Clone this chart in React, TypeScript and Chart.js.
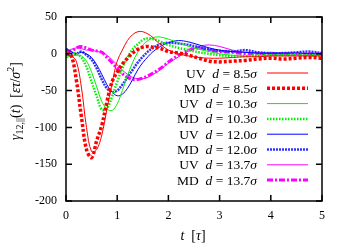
import React, { useEffect, useRef } from "react";
import { Chart, registerables } from "chart.js";

Chart.register(...registerables);

const T = [0, 0.1, 0.2, 0.3, 0.4, 0.5, 0.6, 0.7, 0.8, 0.9, 1.0, 1.1, 1.2, 1.3, 1.4, 1.5, 1.6, 1.7, 1.8, 1.9, 2.0, 2.2, 2.4, 2.6, 2.8, 3.0, 3.25, 3.5, 3.75, 4.0, 4.25, 4.5, 4.75, 5.0];

const uv85 = [-2, -3, -10, -45, -100, -133, -130, -110, -75, -40, -10, 5, 18, 26, 30, 30, 27, 22, 15, 10, 5, 0, -3, -5, -6, -6, -5, -4, -4, -3, -3, -3, -3, -3];
const md85 = [0, -2, -35, -85, -130, -141, -118, -97, -65, -38, -25, -14, -6, 1, 6, 9, 10, 9, 8, 6, 3, 1, -2, -6, -10, -11, -10, -9, -7, -6, -7, -6, -5, -6];
const uv103 = [-5, -3, -2, -3, -10, -25, -45, -65, -75, -77, -68, -50, -30, -12, 2, 12, 18, 22, 23, 22, 20, 15, 10, 6, 3, 0, -2, -3, -3, -2, -2, -2, -2, -2];
const md103 = [-5, 0, 0, -5, -18, -38, -58, -76, -74, -58, -38, -20, -5, 6, 13, 19, 21, 20, 18, 15, 12, 8, 5, 2, 0, -2, -3, -3, -2, -2, -2, -1, -2, -2];
const uv120 = [8, 3, 0, 2, 0, -5, -15, -28, -42, -52, -57, -55, -47, -35, -22, -12, -4, 3, 8, 12, 15, 18, 16, 12, 8, 5, 3, 2, 1, 1, 1, 1, 0, 0];
const md120 = [6, 2, 0, 3, -2, -8, -20, -35, -47, -52, -50, -42, -32, -22, -12, -4, 3, 8, 12, 14, 15, 14, 12, 9, 6, 4, 3, 5, 2, 1, 1, 2, 3, 1];
const uv137 = [3, 6, 8, 7, 5, 5, 3, 2, -2, -8, -15, -22, -28, -32, -34, -34, -32, -28, -24, -18, -13, -4, 4, 10, 12, 10, 5, 2, 1, 0, 0, 0, 0, 0];
const md137 = [5, 3, 8, 10, 8, 5, 4, 2, -5, -12, -20, -27, -32, -35, -35, -33, -30, -26, -22, -17, -11, -2, 5, 8, 5, 3, 2, 0, 0, 0, 0, 0, 0, 0];

const methods = ["UV", "MD", "UV", "MD", "UV", "MD", "UV", "MD"];
const diameters = ["8.5", "8.5", "10.3", "10.3", "12.0", "12.0", "13.7", "13.7"];
const seriesValues = [uv85, md85, uv103, md103, uv120, md120, uv137, md137];

const xTicks = [0, 1, 2, 3, 4, 5];
const yTicks = [50, 0, -50, -100, -150, -200];

const colors = ["#ff0000", "#ff0000", "#00f000", "#00f000", "#0000ff", "#3333ff", "#ff00ff", "#ff00ff"];
const widths = [1, 3.5, 1, 2.5, 1, 2.5, 1, 3];
const dashes: number[][] = [[], [3, 2], [], [1.5, 1.5], [], [2, 1], [], [6, 2, 2, 2]];

const SERIF = "'Liberation Serif', 'DejaVu Serif', serif";

type Piece = { s: string; it?: boolean; size?: number; dy?: number };

function drawPieces(ctx: CanvasRenderingContext2D, pieces: Piece[], x: number, y: number, align: "left" | "right" | "center", base = 13) {
  const font = (p: Piece) => `${p.it ? "italic " : ""}${p.size || base}px ${SERIF}`;
  let total = 0;
  for (const p of pieces) {
    ctx.font = font(p);
    total += ctx.measureText(p.s).width;
  }
  let cx = align === "left" ? x : align === "right" ? x - total : x - total / 2;
  ctx.textAlign = "left";
  ctx.textBaseline = "alphabetic";
  for (const p of pieces) {
    ctx.font = font(p);
    ctx.fillText(p.s, cx, y + (p.dy || 0));
    cx += ctx.measureText(p.s).width;
  }
}

const framePlugin = {
  id: "frame",
  afterDatasetsDraw(chart: any) {
    const { ctx, chartArea: a, scales } = chart;
    ctx.save();
    ctx.strokeStyle = "#000";
    ctx.lineWidth = 1.5;
    ctx.setLineDash([]);
    ctx.strokeRect(a.left, a.top, a.right - a.left, a.bottom - a.top);
    const L = 6;
    ctx.beginPath();
    for (const v of xTicks) {
      const px = scales.x.getPixelForValue(v);
      ctx.moveTo(px, a.bottom);
      ctx.lineTo(px, a.bottom - L);
      ctx.moveTo(px, a.top);
      ctx.lineTo(px, a.top + L);
    }
    for (const v of yTicks) {
      const py = scales.y.getPixelForValue(v);
      ctx.moveTo(a.left, py);
      ctx.lineTo(a.left + L, py);
      ctx.moveTo(a.right, py);
      ctx.lineTo(a.right - L, py);
    }
    ctx.stroke();

    // legend
    ctx.fillStyle = "#000";
    chart.data.datasets.forEach((ds: any, i: number) => {
      const y = a.top + 56 + i * 15.3;
      drawPieces(ctx, [
        { s: methods[i] + "\u2002" },
        { s: "d", it: true },
        { s: "\u2005=\u2005" + diameters[i] },
        { s: "σ", it: true },
      ], a.right - 65, y + 4.5, "right", 13.5);
      ctx.strokeStyle = ds.borderColor;
      ctx.lineWidth = ds.borderWidth;
      ctx.setLineDash(ds.borderDash || []);
      ctx.beginPath();
      ctx.moveTo(a.right - 55, y);
      ctx.lineTo(a.right - 14, y);
      ctx.stroke();
    });
    ctx.setLineDash([]);

    // x title
    drawPieces(ctx, [{ s: "t", it: true }, { s: "\u2002[" }, { s: "τ", it: true }, { s: "]" }], 193, 240, "center", 14);

    // y title
    ctx.translate(15, 101);
    ctx.rotate(-Math.PI / 2);
    drawPieces(ctx, [
      { s: "γ", it: true },
      { s: "12,||", size: 10, dy: 3 },
      { s: "(" },
      { s: "t", it: true },
      { s: ")\u2002[" },
      { s: "ετ", it: true },
      { s: "/" },
      { s: "σ", it: true },
      { s: "2", size: 10, dy: -6 },
      { s: "]" },
    ], 0, 5, "center", 14);
    ctx.restore();
  },
};

export default function App() {
  const ref = useRef<HTMLCanvasElement>(null);
  useEffect(() => {
    if (!ref.current) return;
    const chart = new Chart(ref.current, {
      type: "line",
      data: {
        datasets: seriesValues.map((vals, i) => ({
          label: methods[i] + " d = " + diameters[i] + "σ",
          data: T.map((t, j) => ({ x: t, y: vals[j] })),
          borderColor: colors[i],
          borderWidth: widths[i],
          borderDash: dashes[i],
          pointRadius: 0,
          fill: false,
          tension: 0.35,
        })),
      },
      options: {
        animation: false,
        responsive: false,
        maintainAspectRatio: false,
        layout: { padding: { left: 0, top: 17, right: 28, bottom: 0 } },
        plugins: { legend: { display: false }, tooltip: { enabled: false }, title: { display: false } },
        scales: {
          x: {
            type: "linear",
            min: 0,
            max: 5,
            afterFit: (s: any) => { s.height = 49; },
            afterBuildTicks: (s: any) => { s.ticks = xTicks.map((v) => ({ value: v })); },
            grid: { display: false, drawTicks: false },
            border: { display: false },
            ticks: { color: "#000", padding: 8, font: { family: SERIF, size: 12 }, maxRotation: 0 },
          },
          y: {
            type: "linear",
            min: -200,
            max: 50,
            afterFit: (s: any) => { s.width = 66; },
            afterBuildTicks: (s: any) => { s.ticks = yTicks.map((v) => ({ value: v })); },
            grid: { display: false, drawTicks: false },
            border: { display: false },
            ticks: { color: "#000", padding: 9, font: { family: SERIF, size: 12 } },
          },
        },
      },
      plugins: [framePlugin],
    });
    return () => chart.destroy();
  }, []);
  return (
    <div style={{ position: "fixed", left: 0, top: 0, width: 350, height: 250, background: "#fff" }}>
      <canvas ref={ref} width={350} height={250} />
    </div>
  );
}
